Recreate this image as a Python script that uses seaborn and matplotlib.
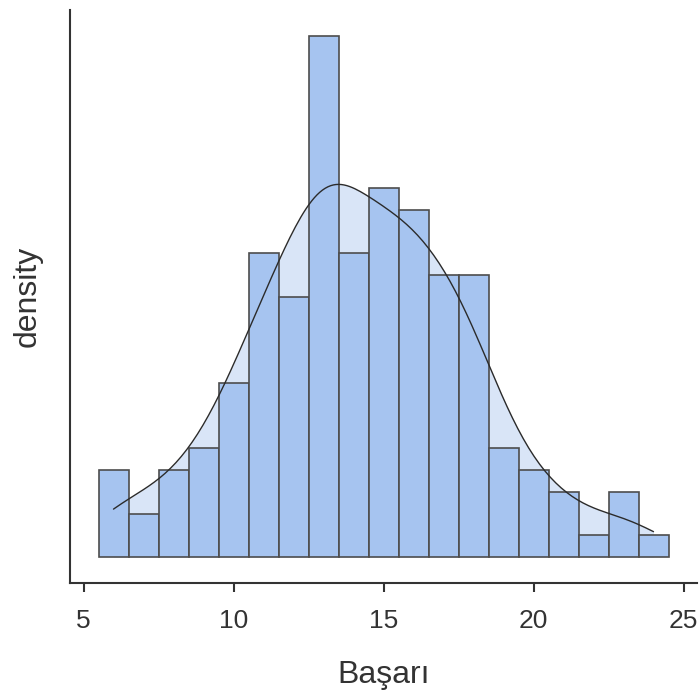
import numpy as np
import matplotlib
matplotlib.use("Agg")
import matplotlib.pyplot as plt
import seaborn as sns

# Başarı scores (integer values) and how many students got each
scores = [6, 7, 8, 9, 10, 11, 12, 13, 14, 15, 16, 17, 18, 19, 20, 21, 22, 23, 24]
counts = [4, 2, 4, 5, 8, 14, 12, 24, 14, 17, 16, 13, 13, 5, 4, 3, 1, 3, 1]
x_ticks = [5, 10, 15, 20, 25]

values = np.repeat(scores, counts).astype(float)
n = len(values)

# R-style nrd0 bandwidth, expressed as a gaussian_kde factor
sd = values.std(ddof=1)
iqr = np.subtract(*np.percentile(values, [75, 25]))
bw = 0.9 * min(sd, iqr / 1.34) * n ** -0.2
bw_factor = bw / sd

sns.set_theme(style="white")
plt.rcParams["font.family"] = ["Liberation Sans", "DejaVu Sans"]

fig = plt.figure(figsize=(6.99, 6.96), dpi=100)
ax = fig.add_axes([70 / 699, 113 / 696, 627 / 699, 573 / 696])

bins = np.arange(min(scores) - 0.5, max(scores) + 1.5, 1.0)

# density area behind the bars
sns.kdeplot(x=values, bw_method=bw_factor, bw_adjust=1.04, cut=0, fill=True,
            color="#d9e5f7", alpha=1, linewidth=0, ax=ax)
# histogram on a density scale
sns.histplot(x=values, bins=bins, stat="density", color="#a6c4f0", alpha=1,
             edgecolor="#4d4d4d", linewidth=1.2, ax=ax)
# density outline on top
sns.kdeplot(x=values, bw_method=bw_factor, bw_adjust=1.04, cut=0,
            color="#2b2b2b", linewidth=1.0, ax=ax)

ymax = max(counts) / n
ax.set_xlim(bins[0] - 0.05 * (bins[-1] - bins[0]), bins[-1] + 0.05 * (bins[-1] - bins[0]))
ax.set_ylim(-0.05 * ymax, 1.05 * ymax)

ax.set_xticks(x_ticks)
ax.set_xticklabels([str(t) for t in x_ticks])
ax.set_yticks([])

ax.set_xlabel("Başarı", fontsize=23, color="#333333", labelpad=20)
ax.set_ylabel("density", fontsize=23, color="#333333", labelpad=20)

ax.tick_params(axis="x", which="both", bottom=True, length=6.5, width=1.5,
               color="#333333", labelsize=19, labelcolor="#333333", pad=12)

for side in ("top", "right"):
    ax.spines[side].set_visible(False)
for side in ("left", "bottom"):
    ax.spines[side].set_color("#333333")
    ax.spines[side].set_linewidth(1.5)

fig.savefig("out.png", dpi=100)
